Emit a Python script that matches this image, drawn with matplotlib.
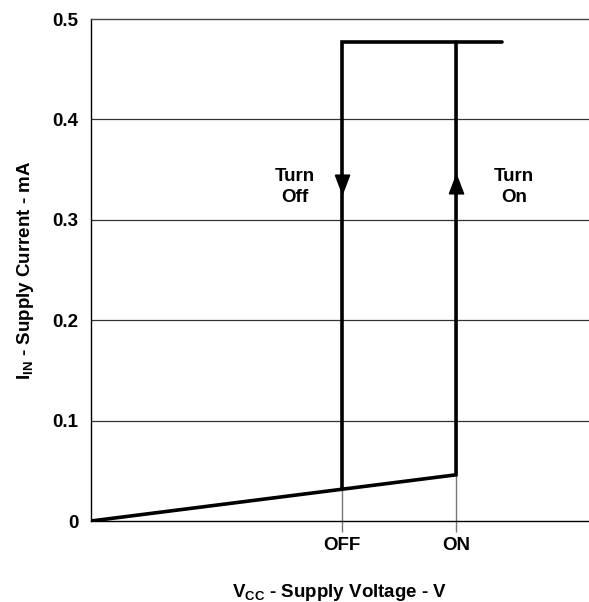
import matplotlib
matplotlib.use("Agg")
import matplotlib.pyplot as plt
import numpy as np

plt.rcParams['font.family'] = ['Liberation Sans', 'DejaVu Sans']
plt.rcParams['font.weight'] = 'bold'
plt.rcParams['mathtext.fontset'] = 'custom'
plt.rcParams['mathtext.rm'] = 'Liberation Sans:bold'
plt.rcParams['mathtext.it'] = 'Liberation Sans:bold'
plt.rcParams['mathtext.bf'] = 'Liberation Sans:bold'
plt.rcParams['mathtext.default'] = 'rm'

FS = 13.5

# Data (voltage in arbitrary units, current in mA)
v_off = 5.04
v_on = 7.33
v_end = 8.25
i_off = 0.033
i_on = 0.046
i_top = 0.477
arrow_i = 0.336

y_ticks = [0, 0.1, 0.2, 0.3, 0.4, 0.5]
y_ticklabels = ['0', '0.1', '0.2', '0.3', '0.4', '0.5']
x_ticks = [v_off, v_on]
x_ticklabels = ['OFF', 'ON']

# bottom ramp and ON branch
ramp_v = [0, v_on, v_on]
ramp_i = [0, i_on, i_top]
# OFF branch and top
off_v = [v_off, v_off, v_end]
off_i = [i_off, i_top, i_top]

fig = plt.figure(figsize=(5.89, 6.02), dpi=100)
ax = fig.add_axes([91/589, 1 - 521/602, 1 - 91/589, (521 - 19)/602])

ax.set_xlim(0, 10)
ax.set_ylim(0, 0.5)

for y in y_ticks[1:-1]:
    ax.axhline(y, color='#333333', lw=0.9, zorder=1)

ax.vlines(x_ticks, 0, [i_off, i_on], color='#777777', lw=1.0, zorder=2)

ax.plot(ramp_v, ramp_i, color='black', lw=2.6, solid_capstyle='round', solid_joinstyle='miter', zorder=3)
ax.plot(off_v, off_i, color='black', lw=2.6, solid_capstyle='round', solid_joinstyle='miter', zorder=3)

down = [(-0.38, 0.5), (0.38, 0.5), (0, -0.5), (-0.38, 0.5)]
up = [(-0.38, -0.5), (0.38, -0.5), (0, 0.5), (-0.38, -0.5)]
ax.plot([v_off], [arrow_i], marker=down, markersize=13.5, color='black', zorder=4, linestyle='none')
ax.plot([v_on], [arrow_i], marker=up, markersize=13.5, color='black', zorder=4, linestyle='none')

ax.text(4.1, 0.333, 'Turn\nOff', ha='center', va='center', fontsize=FS, fontweight='bold', linespacing=1.3)
ax.text(8.5, 0.333, 'Turn\nOn', ha='center', va='center', fontsize=FS, fontweight='bold', linespacing=1.3)

ax.set_yticks(y_ticks)
ax.set_yticklabels(y_ticklabels, fontsize=FS, fontweight='bold')
ax.set_xticks(x_ticks)
ax.set_xticklabels(x_ticklabels, fontsize=FS, fontweight='bold')
ax.tick_params(axis='y', length=0, pad=9)
ax.tick_params(axis='x', length=8, color='#777777', width=1.0, pad=3.5)

ax.spines['right'].set_visible(False)
ax.spines['left'].set_color('black')
ax.spines['left'].set_linewidth(1.0)
ax.spines['top'].set_color('#444444')
ax.spines['top'].set_linewidth(1.0)
ax.spines['bottom'].set_color('black')
ax.spines['bottom'].set_linewidth(1.0)

ax.set_xlabel(r'V$_{CC}$ - Supply Voltage - V', fontsize=FS, fontweight='bold', labelpad=20)
ax.set_ylabel(r'I$_{IN}$ - Supply Current - mA', fontsize=FS, fontweight='bold', labelpad=12)

fig.savefig('out.png', dpi=100)
